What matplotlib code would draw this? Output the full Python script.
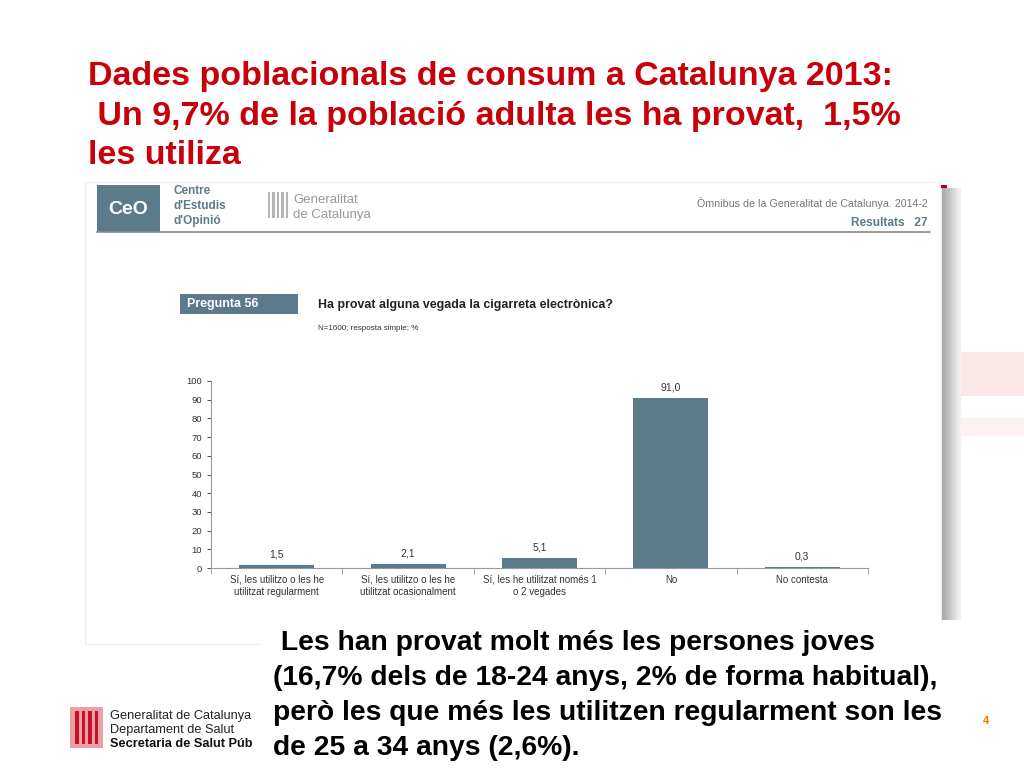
import numpy as np
import matplotlib.pyplot as plt
from matplotlib.patches import Rectangle

plt.rcParams['font.family'] = ['Liberation Sans', 'DejaVu Sans']

# data
categories = ['Sí, les utilitzo o les he\nutilitzat regularment',
              'Sí, les utilitzo o les he\nutilitzat ocasionalment',
              'Sí, les he utilitzat només 1\no 2 vegades',
              'No',
              'No contesta']
values = [1.5, 2.1, 5.1, 91.0, 0.3]
value_labels = ['1,5', '2,1', '5,1', '91,0', '0,3']
yticks = [0, 10, 20, 30, 40, 50, 60, 70, 80, 90, 100]

title_lines = ['Dades poblacionals de consum a Catalunya 2013:',
               ' Un 9,7% de la població adulta les ha provat,  1,5%',
               'les utiliza']
note_lines = [' Les han provat molt més les persones joves',
              '(16,7% dels de 18-24 anys, 2% de forma habitual),',
              'però les que més les utilitzen regularment son les',
              'de 25 a 34 anys (2,6%).']

W, H = 1024, 768
slate = '#5b7a8c'
red = '#c8000a'

fig = plt.figure(figsize=(W / 100, H / 100), dpi=100)
bg = fig.add_axes([0, 0, 1, 1])
bg.set_xlim(0, W)
bg.set_ylim(H, 0)
bg.axis('off')

# faint pink bands on the right
bg.add_patch(Rectangle((942, 352), 82, 44, color='#fbe9e9', lw=0))
bg.add_patch(Rectangle((942, 418), 82, 18, color='#fdf1f1', lw=0))

# title
for i, line in enumerate(title_lines):
    bg.text(88, 76 + i * 40, line, fontsize=24.5, fontweight='bold', color=red, va='center')

# panel with shadow
for k in range(12):
    g = 0.62 + k * 0.03
    bg.add_patch(Rectangle((940 + k * 1.7, 188), 1.8, 432, color=(g, g, g), lw=0))
bg.add_patch(Rectangle((85, 182), 856, 462, facecolor='white', edgecolor='#eeeeee', lw=0.8))
bg.add_patch(Rectangle((941, 185), 6, 3, color='#b0001a', lw=0))

# header
bg.add_patch(Rectangle((97, 185), 63, 47, color=slate, lw=0))
bg.text(128, 209, 'CeO', fontsize=14, fontweight='bold', color='white', ha='center', va='center')
for i, t in enumerate(['Centre', "d'Estudis", "d'Opinió"]):
    bg.text(173, 191 + i * 15, t, fontsize=8.5, fontweight='bold', color=slate, va='center')
for k in range(5):
    bg.add_patch(Rectangle((268 + k * 4.4, 192), 2.4, 26, color='#b5b5b5', lw=0))
bg.text(293, 200, 'Generalitat', fontsize=9.5, color='#999999', va='center')
bg.text(293, 215, 'de Catalunya', fontsize=9.5, color='#999999', va='center')
bg.text(928, 203, 'Òmnibus de la Generalitat de Catalunya. 2014-2', fontsize=7.7,
        color='#777777', ha='right', va='center')
bg.text(928, 223, 'Resultats   27', fontsize=8.6, fontweight='bold', color=slate, ha='right', va='center')
bg.plot([97, 930], [232, 232], color='#8a8a8a', lw=1.2)

# question
bg.add_patch(Rectangle((180, 294), 118, 20, color=slate, lw=0))
bg.text(187, 304, 'Pregunta 56', fontsize=8.9, fontweight='bold', color='white', va='center')
bg.text(318, 305, 'Ha provat alguna vegada la cigarreta electrònica?', fontsize=8.9,
        fontweight='bold', color='#222222', va='center')
bg.text(318, 328, 'N=1600; resposta simple; %', fontsize=5.8, color='#333333', va='center')

# bar chart
x0, x1, ytop, ybot = 211, 868, 381, 568
ax = fig.add_axes([x0 / W, 1 - ybot / H, (x1 - x0) / W, (ybot - ytop) / H])
xpos = np.arange(len(values))
ax.bar(xpos, values, width=0.57, color=slate)
for xp, v, lab in zip(xpos, values, value_labels):
    ax.text(xp, v + 3, lab, ha='center', va='bottom', fontsize=7.5, color='#333333')
ax.set_xlim(-0.5, len(values) - 0.5)
ax.set_ylim(0, 100)
ax.set_yticks(yticks)
ax.tick_params(axis='y', labelsize=6.8, colors='#333333', length=3, width=0.6)
ax.set_xticks(xpos)
ax.set_xticklabels(categories, fontsize=7, color='#333333', linespacing=1.3)
ax.tick_params(axis='x', length=0, pad=5)
ax.set_xticks(np.arange(len(values) + 1) - 0.5, minor=True)
ax.tick_params(axis='x', which='minor', length=4, width=0.6, color='#999999')
for s in ['top', 'right']:
    ax.spines[s].set_visible(False)
for s in ['left', 'bottom']:
    ax.spines[s].set_color('#999999')
    ax.spines[s].set_linewidth(0.8)
ax.set_facecolor('none')

# bottom note
bg.add_patch(Rectangle((262, 622), 700, 146, color='white', lw=0))
for i, line in enumerate(note_lines):
    bg.text(273, 643 + i * 35, line, fontsize=20.3, fontweight='bold', color='black', va='center')

# bottom-left logo
bg.add_patch(Rectangle((70, 707), 33, 41, color='#e8a0a0', lw=0))
for k in range(4):
    bg.add_patch(Rectangle((75 + k * 6.5, 711), 3.5, 33, color='#c8102e', lw=0))
bg.text(110, 716, 'Generalitat de Catalunya', fontsize=9.2, color='#222222', va='center')
bg.text(110, 730, 'Departament de Salut', fontsize=9.2, color='#222222', va='center')
bg.text(110, 744, 'Secretaria de Salut Púb', fontsize=9.2, fontweight='bold', color='#111111', va='center')

bg.text(986, 721, '4', fontsize=8, fontweight='bold', color='#e07b00', ha='center', va='center')

fig.savefig('out.png', dpi=100)
